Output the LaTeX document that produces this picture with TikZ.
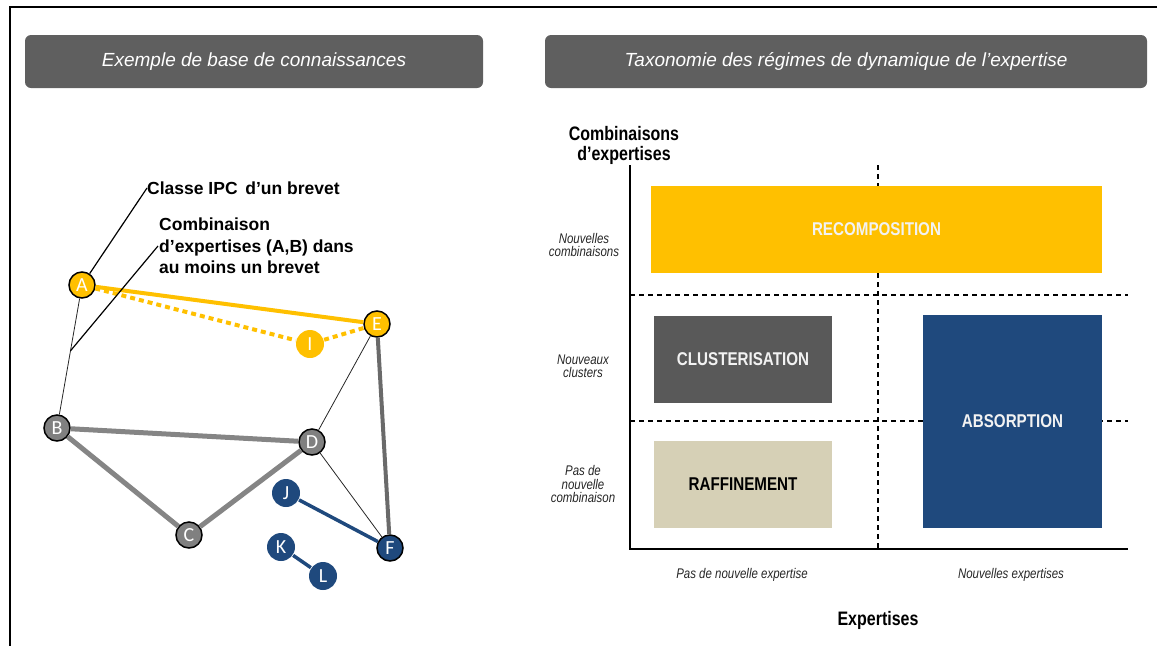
\documentclass[tikz,border=0pt]{standalone}
\usepackage{fontspec}
\setmainfont{Liberation Sans}
\newfontfamily\narrowfont[FakeStretch=0.82]{Liberation Sans}
\newfontfamily\knotfont{Carlito}
\usetikzlibrary{calc}

\definecolor{headgray}{HTML}{5F5F5F}
\definecolor{ipcyellow}{HTML}{FFC000}
\definecolor{ipcgray}{HTML}{808080}
\definecolor{linkgray}{HTML}{858585}
\definecolor{darkgray}{HTML}{6A6A6A}
\definecolor{ipcblue}{HTML}{1F497D}
\definecolor{clustgray}{HTML}{595959}
\definecolor{beige}{HTML}{D6D0B6}
\definecolor{offwhite}{HTML}{F2F2F2}

\begin{document}
\begin{tikzpicture}[
            x=1pt, y=-1pt,
            header_box/.style={rounded corners=6pt, fill=headgray, text=white, inner sep=0pt,
                font=\fontsize{19}{22}\selectfont\itshape},
            yel_node/.style={circle, fill=ipcyellow, draw=black, line width=1.5pt, minimum size=26pt,
                inner sep=0pt, text=white, font=\knotfont\fontsize{20}{20}\selectfont},
            yel_flat/.style={yel_node, draw=none, minimum size=28pt},
            gray_node/.style={yel_node, fill=ipcgray},
            blue_node/.style={yel_node, fill=ipcblue},
            blue_flat/.style={blue_node, draw=none, minimum size=28pt},
            thin_link/.style={line width=0.8pt, black!85},
            gray_link/.style={line width=5pt, linkgray},
            dark_link/.style={line width=4pt, darkgray},
            yel_link/.style={line width=4pt, ipcyellow},
            yel_dot/.style={line width=4pt, ipcyellow, dash pattern=on 5pt off 4pt},
            blue_link/.style={line width=3.5pt, ipcblue},
            call_lab/.style={inner sep=0pt, font=\fontsize{17.5}{21.5}\selectfont\bfseries},
            call_line/.style={line width=1.2pt, black},
            regime_box/.style={inner sep=0pt, text=offwhite, font=\narrowfont\fontsize{18.5}{18.5}\selectfont\bfseries},
            axis_title/.style={inner sep=0pt, align=center, font=\narrowfont\fontsize{19.5}{20}\selectfont\bfseries},
            axis_lab/.style={inner sep=0pt, align=center, black!85, font=\narrowfont\fontsize{14}{13.5}\selectfont\itshape},
            grid_dash/.style={line width=1.2pt, dash pattern=on 5pt off 4pt}
        ]
        \useasboundingbox (0,0) rectangle (1166,646);

        % outer frame
        \draw[line width=2pt] (1157,7) -- (10,7) -- (10,646);

        % headers
        \node[header_box, minimum width=458pt, minimum height=53pt] (hd_left) at (254,61.5)
            {Exemple de base de connaissances};
        \node[header_box, minimum width=602pt, minimum height=53pt] (hd_right) at (846,61.5)
            {Taxonomie des régimes de dynamique de l’expertise};

        % knowledge base nodes
        \node[yel_node] (A) at (82,285) {A};
        \node[yel_node] (E) at (377,324) {E};
        \node[yel_flat] (I) at (310,344) {I};
        \node[gray_node] (B) at (57,428) {B};
        \node[gray_node] (D) at (312,442) {D};
        \node[gray_node] (C) at (189,535) {C};
        \node[blue_node] (F) at (390,548) {F};
        \node[blue_flat] (J) at (286,493) {J};
        \node[blue_flat] (K) at (281,547) {K};
        \node[blue_flat] (L) at (323,576) {L};

        % links
        \draw[thin_link] (A) -- (B);
        \draw[thin_link] (D) -- (E);
        \draw[thin_link] (D) -- (F);
        \draw[gray_link] (B) -- (D);
        \draw[gray_link] (B) -- (C);
        \draw[gray_link] (C) -- (D);
        \draw[dark_link] (E) -- (F);
        \draw[yel_link] (A) -- (E);
        \draw[yel_dot] (A) -- (I) -- (E);
        \draw[blue_link] (J) -- (F);
        \draw[blue_link] (K) -- (L);

        % callouts
        \node[call_lab, anchor=west] (ipc_lab) at (147,188) {Classe IPC\, d’un brevet};
        \node[call_lab, anchor=north west, align=left] (comb_lab) at (159,218)
            {Combinaison\\d’expertises (A,B) dans\\au moins un brevet};
        \coordinate (ab_pt) at ($(A)!0.46!(B)$);
        \coordinate (comb_pt) at (158,246);
        \draw[call_line] (ipc_lab.west) -- (A);
        \draw[call_line] (ab_pt) -- (comb_pt);

        % taxonomy grid
        \draw[grid_dash] (878,165) -- (878,549);
        \draw[grid_dash] (630,295) -- (1128,295);
        \draw[grid_dash] (630,421) -- (1128,421);
        \draw[line width=2pt] (630,165) -- (630,549) -- (1128,549);

        % regimes
        \node[regime_box, fill=ipcyellow, minimum width=451pt, minimum height=87pt] (recomp) at (876.5,229.5) {RECOMPOSITION};
        \node[regime_box, fill=clustgray, minimum width=178pt, minimum height=87pt] (clust) at (743,359.5) {CLUSTERISATION};
        \node[regime_box, fill=beige, text=black, minimum width=178pt, minimum height=87pt] (raff) at (743,484.5) {RAFFINEMENT};
        \node[regime_box, fill=ipcblue, minimum width=179pt, minimum height=213pt] (absorp) at (1012.5,421.5) {ABSORPTION};

        % axis labels
        \node[axis_title] (y_title) at (624,145) {Combinaisons\\d’expertises};
        \node[axis_title] (x_title) at (878,620) {Expertises};
        \node[axis_lab] (y_top) at (584,245) {Nouvelles\\combinaisons};
        \node[axis_lab] (y_mid) at (583,366) {Nouveaux\\clusters};
        \node[axis_lab] (y_low) at (583,484) {Pas de\\nouvelle\\combinaison};
        \node[axis_lab] (x_left) at (742,575) {Pas de nouvelle expertise};
        \node[axis_lab] (x_right) at (1011,575) {Nouvelles expertises};

    \end{tikzpicture}
\end{document}
